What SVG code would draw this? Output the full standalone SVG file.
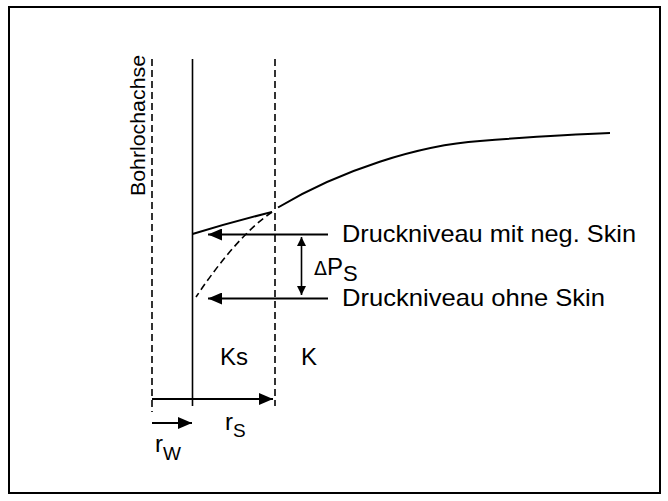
<svg xmlns="http://www.w3.org/2000/svg" width="668" height="501" viewBox="0 0 668 501">
<style>
  text { font-family: "Liberation Sans", Arial, sans-serif; fill: #000; }
  .lbl { font-size: 24px; }
  .ln { stroke: #000; fill: none; stroke-width: 2; }
  .dash { stroke: #000; fill: none; stroke-width: 1.6; stroke-dasharray: 7 4; }
  .thin { stroke: #000; fill: none; stroke-width: 1.6; }
</style>
<defs>
  <marker id="ah" markerWidth="14" markerHeight="12" refX="14" refY="6" orient="auto" markerUnits="userSpaceOnUse">
    <path d="M0,0 L14,6 L0,12 Z" fill="#000"/>
  </marker>
  <marker id="sh" markerWidth="9" markerHeight="9" refX="9" refY="4.5" orient="auto" markerUnits="userSpaceOnUse">
    <path d="M0,0 L9,4.5 L0,9 Z" fill="#000"/>
  </marker>
  <marker id="shs" markerWidth="9" markerHeight="9" refX="0" refY="4.5" orient="auto" markerUnits="userSpaceOnUse">
    <path d="M9,0 L0,4.5 L9,9 Z" fill="#000"/>
  </marker>
</defs>
<rect x="9" y="7" width="651" height="486" fill="#fff" stroke="#000" stroke-width="2"/>

<g id="axes">
  <line class="dash" x1="152" y1="59" x2="152" y2="412"/>
  <line class="thin" x1="192.5" y1="59" x2="192.5" y2="406"/>
  <line class="dash" x1="275" y1="59" x2="275" y2="406"/>
  <text style="font-size:21px" transform="translate(145,196) rotate(-90)" textLength="141" lengthAdjust="spacingAndGlyphs">Bohrlochachse</text>
</g>

<g id="curves">
  <path class="ln" d="M192.5,234 Q232,222 272,212"/>
  <path class="ln" d="M278,207.5 C340,170 420,145 480,141 C530,137 580,134 610,133"/>
  <path class="dash" d="M272,212 Q237,236 196,297"/>
</g>

<g id="connectors">
  <line class="ln" x1="328" y1="234.5" x2="208" y2="234.5" marker-end="url(#ah)"/>
  <line class="ln" x1="328" y1="298.5" x2="208" y2="298.5" marker-end="url(#ah)"/>
  <line class="thin" x1="301.5" y1="237" x2="301.5" y2="295" marker-start="url(#shs)" marker-end="url(#sh)"/>
  <line class="ln" x1="152" y1="399" x2="273" y2="399" marker-end="url(#ah)"/>
  <line class="ln" x1="152" y1="423" x2="192" y2="423" marker-end="url(#ah)"/>
</g>

<g id="labels">
  <text class="lbl" x="342" y="242" textLength="294" lengthAdjust="spacingAndGlyphs">Druckniveau mit neg. Skin</text>
  <text class="lbl" x="342" y="306" textLength="263" lengthAdjust="spacingAndGlyphs">Druckniveau ohne Skin</text>
  <text x="314" y="275"><tspan style="font-size:19px;font-family:'DejaVu Sans',sans-serif">Δ</tspan><tspan style="font-size:24px">P</tspan><tspan style="font-size:22px" dy="6">S</tspan></text>
  <text class="lbl" x="220" y="365">Ks</text>
  <text class="lbl" x="301" y="365">K</text>
  <text x="225" y="430"><tspan style="font-size:24px">r</tspan><tspan style="font-size:19px" dy="7">S</tspan></text>
  <text x="155" y="452"><tspan style="font-size:24px">r</tspan><tspan style="font-size:19px" dy="8">W</tspan></text>
</g>
</svg>
